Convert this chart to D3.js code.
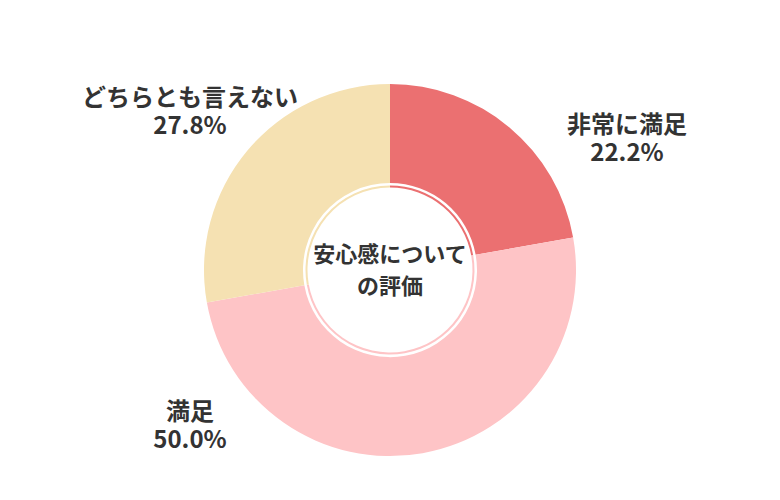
<!DOCTYPE html>
<html>
<head>
<meta charset="utf-8">
<script src="https://cdn.jsdelivr.net/npm/d3@7"></script>
<style>
  html, body { margin: 0; padding: 0; background: #fff; }
  svg { display: block; font-family: "Noto Sans CJK JP", "Noto Sans", sans-serif; }
</style>
</head>
<body>
<svg class="chart"></svg>
<script>
const categories = ['非常に満足', '満足', 'どちらとも言えない'];
const values = [22.2, 50.0, 27.8];
const colors = ['#eb7071', '#fec4c6', '#f5e1b2'];
const centerTitle = ['安心感について', 'の評価'];

// label anchors, relative to the pie centre
const labelOffsets = [[237, -131], [-200, 156], [-200, -158]];

const startApp = () => {
  const viewBox = { width: 780, height: 500 };
  const cx = 390;
  const cy = 270;
  const outerR = 186;
  const innerR = 87;

  const svg = d3.select('.chart')
    .attr('width', viewBox.width)
    .attr('height', viewBox.height);

  const g = svg.append('g').attr('transform', `translate(${cx}, ${cy})`);

  const data = categories.map((name, i) => ({ name, value: values[i], color: colors[i] }));
  const pie = d3.pie().sort(null).value(d => d.value);
  const arcs = pie(data);

  g.selectAll('path.slice')
    .data(arcs)
    .enter()
    .append('path')
    .attr('class', 'slice')
    .attr('d', d3.arc().innerRadius(innerR).outerRadius(outerR))
    .attr('fill', d => d.data.color);

  // thin ring inside the hole
  g.selectAll('path.ring')
    .data(arcs)
    .enter()
    .append('path')
    .attr('class', 'ring')
    .attr('d', d3.arc().innerRadius(82.5).outerRadius(84.5))
    .attr('fill', d => d.data.color);

  const center = g.append('text')
    .attr('text-anchor', 'middle')
    .attr('font-size', 22)
    .attr('font-weight', 700)
    .attr('fill', '#333');
  center.selectAll('tspan')
    .data(centerTitle)
    .enter()
    .append('tspan')
    .attr('x', 0)
    .attr('y', (d, i) => -8 + i * 32)
    .text(d => d);

  const labels = g.selectAll('text.label')
    .data(arcs)
    .enter()
    .append('text')
    .attr('class', 'label')
    .attr('text-anchor', 'middle')
    .attr('font-size', 24)
    .attr('font-weight', 700)
    .attr('fill', '#333');
  labels.append('tspan')
    .attr('x', (d, i) => labelOffsets[i][0])
    .attr('y', (d, i) => labelOffsets[i][1] - 6)
    .text(d => d.data.name);
  labels.append('tspan')
    .attr('x', (d, i) => labelOffsets[i][0])
    .attr('y', (d, i) => labelOffsets[i][1] + 22)
    .text(d => `${d.data.value.toFixed(1)}%`);
};

window.onload = startApp;
</script>
</body>
</html>
